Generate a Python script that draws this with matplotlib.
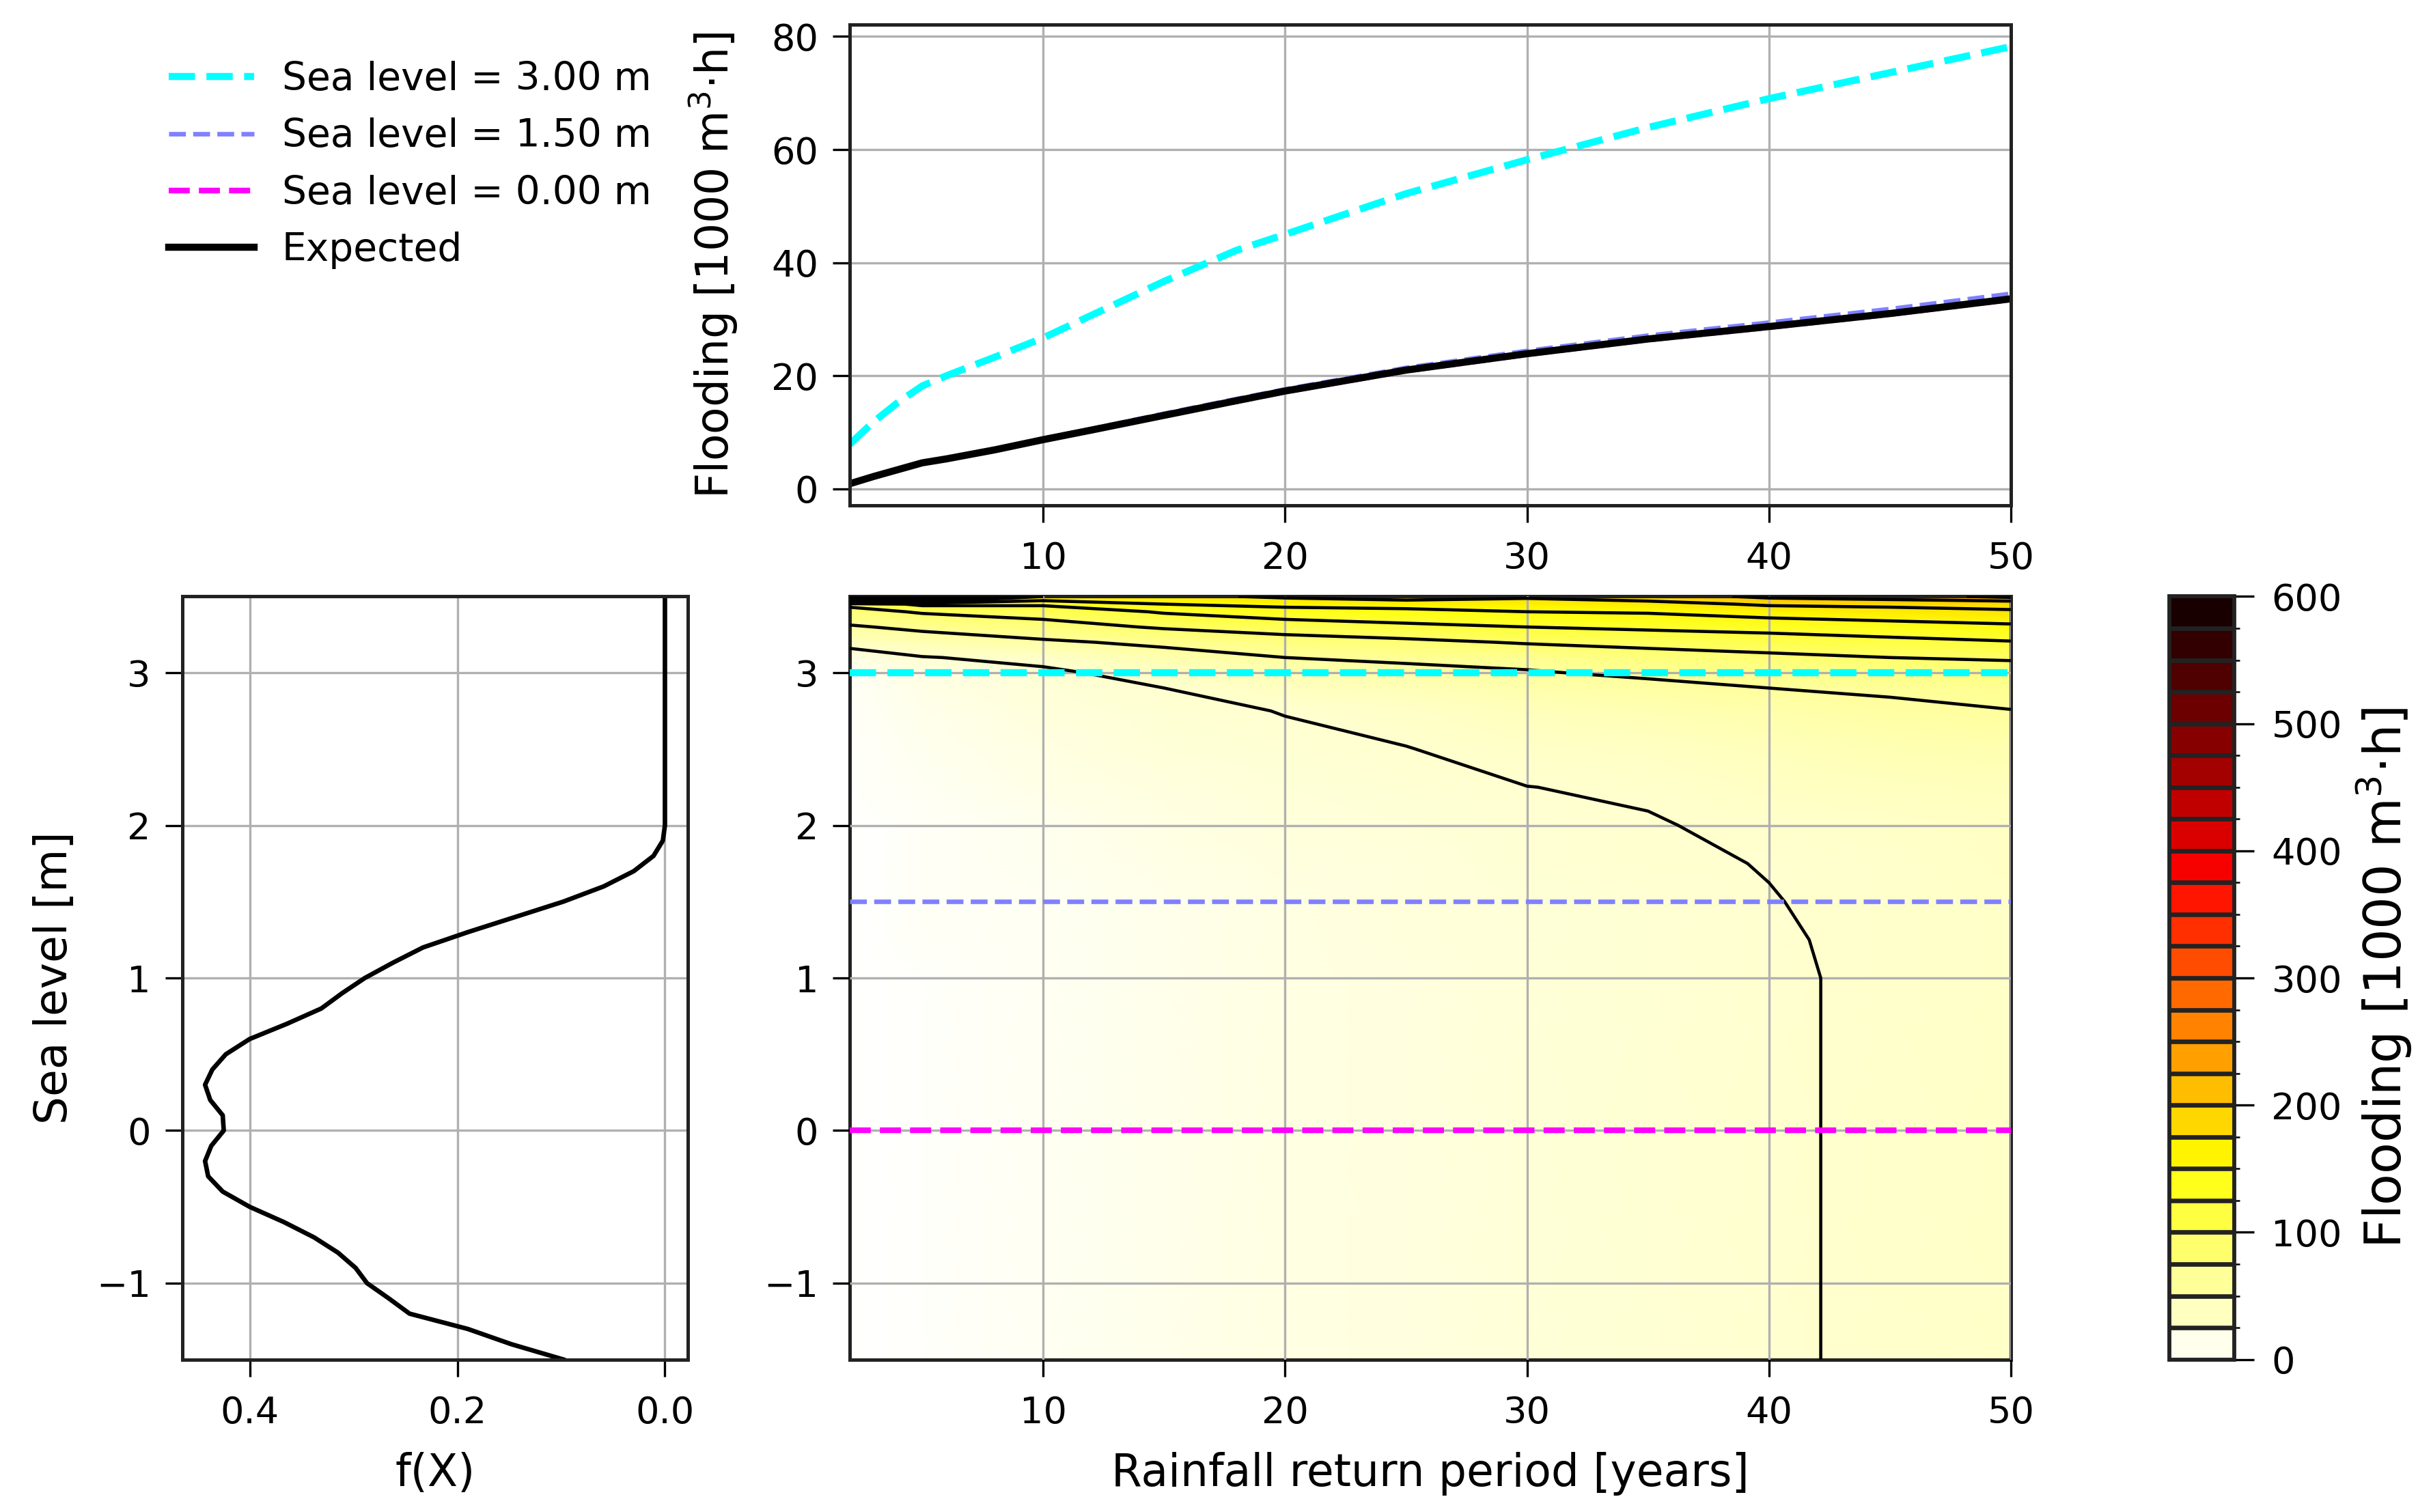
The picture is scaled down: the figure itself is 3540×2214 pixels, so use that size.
#!/usr/bin/env python3
"""Flooding vs rainfall return period and sea level, with sea-level density."""

import matplotlib

matplotlib.use("Agg")
import matplotlib.pyplot as plt
import numpy as np
from matplotlib.cm import ScalarMappable
from matplotlib.colors import BoundaryNorm, ListedColormap, Normalize

# ---- top panel: flooding curves ------------------------------------------
return_period = [2, 3, 4, 5, 6, 8, 10, 12, 15, 18, 20, 25, 30, 35, 40, 45, 50]
flood_sl_300 = [7.9, 11.9, 15.3, 18.2, 20.0, 23.3, 26.7, 30.7, 36.7, 42.2, 45.0,
                52.2, 58.2, 63.9, 69.0, 73.6, 78.2]
flood_sl_150 = [1.0, 2.3, 3.5, 4.7, 5.4, 7.0, 8.9, 10.6, 13.3, 15.9, 17.6,
                21.4, 24.4, 27.1, 29.4, 31.8, 34.5]
flood_sl_000 = [0.9, 2.2, 3.4, 4.6, 5.3, 6.9, 8.7, 10.4, 13.0, 15.5, 17.2,
                20.9, 23.8, 26.4, 28.6, 30.9, 33.5]
flood_expected = [0.9, 2.2, 3.4, 4.6, 5.3, 6.9, 8.7, 10.4, 13.0, 15.6, 17.3,
                  21.0, 23.9, 26.5, 28.7, 31.0, 33.6]

# ---- left panel: sea level density ----------------------------------------
density_sea_level = [3.5, 2.0, 1.9, 1.8, 1.7, 1.6, 1.5, 1.4, 1.3, 1.2, 1.1, 1.0,
                     0.9, 0.8, 0.7, 0.6, 0.5, 0.4, 0.3, 0.2, 0.1, 0.0, -0.1,
                     -0.2, -0.3, -0.4, -0.5, -0.6, -0.7, -0.8, -0.9, -1.0,
                     -1.1, -1.2, -1.3, -1.4, -1.5]
density_fx = [0.0, 0.0, 0.002, 0.011, 0.03, 0.059, 0.098, 0.144, 0.19, 0.233,
              0.262, 0.289, 0.311, 0.331, 0.364, 0.40, 0.423, 0.436, 0.443,
              0.438, 0.426, 0.425, 0.437, 0.443, 0.440, 0.426, 0.40, 0.367,
              0.338, 0.315, 0.298, 0.287, 0.266, 0.246, 0.19, 0.148, 0.098]

# ---- main panel: flooding field [1000 m3 h] ---------------------------------
grid_period = [2, 5, 10, 15, 20, 25, 30, 35, 40, 45, 50]
grid_sea_level = [-1.5, 1.0, 1.25, 1.5, 1.75, 2.0, 2.25, 2.5, 2.75, 2.9, 3.0,
                  3.1, 3.2, 3.3, 3.4, 3.45, 3.5]
flood_field = [
    [0.9, 4.6, 8.7, 13.0, 17.3, 21.0, 24.0, 26.7, 29.1, 31.2, 33.6],
    [0.9, 4.6, 8.7, 13.0, 17.3, 21.0, 24.0, 26.7, 29.1, 31.2, 33.6],
    [1.0, 4.7, 8.9, 13.2, 17.5, 21.3, 24.3, 27.0, 29.3, 31.4, 34.0],
    [1.1, 4.9, 9.2, 13.6, 18.0, 21.8, 24.9, 27.7, 29.7, 32.0, 34.6],
    [1.3, 5.3, 10.0, 14.7, 19.3, 23.3, 26.4, 28.6, 30.3, 32.6, 35.3],
    [1.7, 6.3, 11.7, 16.8, 21.6, 25.5, 27.8, 29.4, 31.8, 34.5, 37.3],
    [2.4, 8.0, 14.3, 20.0, 24.8, 27.8, 29.9, 31.0, 35.5, 38.5, 41.5],
    [3.5, 10.5, 18.3, 23.6, 27.5, 29.7, 33.5, 37.2, 41.0, 45.0, 49.0],
    [5.2, 13.5, 22.0, 27.0, 30.4, 33.5, 41.0, 46.0, 51.0, 55.5, 59.5],
    [6.6, 16.0, 24.6, 30.0, 38.0, 44.0, 50.0, 54.0, 60.0, 63.0, 67.0],
    [7.9, 18.2, 26.7, 36.5, 45.0, 52.2, 58.2, 63.9, 69.0, 73.6, 78.2],
    [18.0, 29.0, 35.0, 48.0, 60.0, 65.0, 67.2, 78.0, 83.0, 90.0, 93.0],
    [38.0, 45.0, 55.5, 66.0, 77.0, 83.0, 92.5, 98.0, 106.0, 112.0, 118.0],
    [57.0, 66.0, 79.0, 93.0, 103.0, 113.0, 120.0, 125.5, 129.3, 136.0, 143.0],
    [80.0, 93.0, 101.0, 123.0, 137.0, 141.0, 150.0, 152.7, 164.0, 171.0, 178.0],
    [97.0, 127.0, 125.0, 150.0, 159.0, 163.5, 165.0, 170.0, 184.0, 186.0, 185.0],
    [500.0, 350.0, 180.0, 172.0, 185.0, 195.0, 185.0, 195.0, 216.5, 226.0, 248.0],
]
contour_levels = [30, 60, 90, 120, 150, 180, 210, 240, 270, 300, 330, 360,
                  390, 420, 450, 480]
colorbar_bounds = list(range(0, 625, 25))

# sea levels highlighted in the top panel
highlight_levels = [3.0, 1.5, 0.0]
highlight_labels = ["Sea level = 3.00 m", "Sea level = 1.50 m", "Sea level = 0.00 m"]

FLOOD_LABEL = "Flooding [1000 m$^3$·h]"


def main() -> None:
    plt.rcParams.update(
        {
            "font.size": 13,
            "axes.labelsize": 15.5,
            "xtick.labelsize": 13,
            "ytick.labelsize": 13,
            "legend.fontsize": 13.6,
            "axes.linewidth": 1.2,
            "axes.edgecolor": "#222222",
            "xtick.major.size": 6,
            "xtick.major.pad": 6.5,
            "ytick.major.size": 6,
            "ytick.major.pad": 5,
            "axes.labelpad": 7.5,
        }
    )

    fig = plt.figure(figsize=(11.8, 7.38), dpi=300)
    ax_top = fig.add_axes([0.3514, 0.6656, 0.4802, 0.318])
    ax_main = fig.add_axes([0.3514, 0.1009, 0.4802, 0.5046])
    ax_left = fig.add_axes([0.0753, 0.1009, 0.2092, 0.5046])
    ax_cbar = fig.add_axes([0.8973, 0.1009, 0.0268, 0.5046])

    styles = [
        dict(color="#00ffff", ls="--", lw=2.5),
        dict(color="#8080ff", ls="--", lw=1.6),
        dict(color="#ff00ff", ls="--", lw=2.0),
    ]
    series = [flood_sl_300, flood_sl_150, flood_sl_000]

    # top: flooding curves
    for vals, lab, st in zip(series, highlight_labels, styles):
        ax_top.plot(return_period, vals, label=lab, **st)
    ax_top.plot(return_period, flood_expected, color="black", lw=2.5, label="Expected")
    ax_top.set_xlim(2, 50)
    ax_top.set_xticks([10, 20, 30, 40, 50])
    ax_top.set_yticks([0, 20, 40, 60, 80])
    ax_top.set_ylabel(FLOOD_LABEL, labelpad=11)
    ax_top.grid(True)

    # main: flooding field
    vmax = colorbar_bounds[-1]
    pp, ss = np.meshgrid(grid_period, grid_sea_level)
    zz = np.array(flood_field)
    ax_main.pcolormesh(pp, ss, zz, cmap="hot_r", norm=Normalize(0, vmax),
                       shading="gouraud", rasterized=True)
    ax_main.contour(pp, ss, zz, levels=contour_levels, colors="black",
                    linewidths=1.1, zorder=2.6)
    for lev, st in zip(highlight_levels, styles):
        ax_main.axhline(lev, zorder=3, **st)
    ax_main.set_xlim(2, 50)
    ax_main.set_ylim(-1.5, 3.5)
    ax_main.set_xticks([10, 20, 30, 40, 50])
    ax_main.set_yticks([-1, 0, 1, 2, 3])
    ax_main.set_xlabel("Rainfall return period [years]")
    ax_main.grid(True, zorder=2.5)
    ax_main.set_axisbelow(False)

    # left: sea level density
    ax_left.plot(density_fx, density_sea_level, color="black", lw=1.6)
    ax_left.invert_xaxis()
    ax_left.set_ylim(-1.5, 3.5)
    ax_left.set_yticks([-1, 0, 1, 2, 3])
    ax_left.set_xticks([0.4, 0.2, 0.0])
    ax_left.set_xlabel("f(X)")
    ax_left.set_ylabel("Sea level [m]", labelpad=7)
    ax_left.grid(True)

    # colorbar: one colour per band, taken at the band midpoint
    bounds = np.array(colorbar_bounds, dtype=float)
    mids = (bounds[:-1] + bounds[1:]) / 2 / vmax
    band_cmap = ListedColormap(plt.get_cmap("hot_r")(mids))
    sm = ScalarMappable(norm=BoundaryNorm(bounds, band_cmap.N), cmap=band_cmap)
    cbar = fig.colorbar(sm, cax=ax_cbar, drawedges=True)
    cbar.set_ticks([0, 100, 200, 300, 400, 500, 600])
    cbar.ax.tick_params(length=7, pad=6)
    cbar.set_label(FLOOD_LABEL, fontsize=18, labelpad=4)
    cbar.dividers.set_linewidth(1.6)
    cbar.outline.set_linewidth(1.4)

    handles, labels = ax_top.get_legend_handles_labels()
    fig.legend(handles, labels, loc="upper left", bbox_to_anchor=(0.0635, 0.970),
               frameon=False, borderaxespad=0, handlelength=2.2,
               handletextpad=0.72, labelspacing=0.5)

    fig.savefig("out.png", dpi=300)
    plt.close(fig)


if __name__ == "__main__":
    main()
